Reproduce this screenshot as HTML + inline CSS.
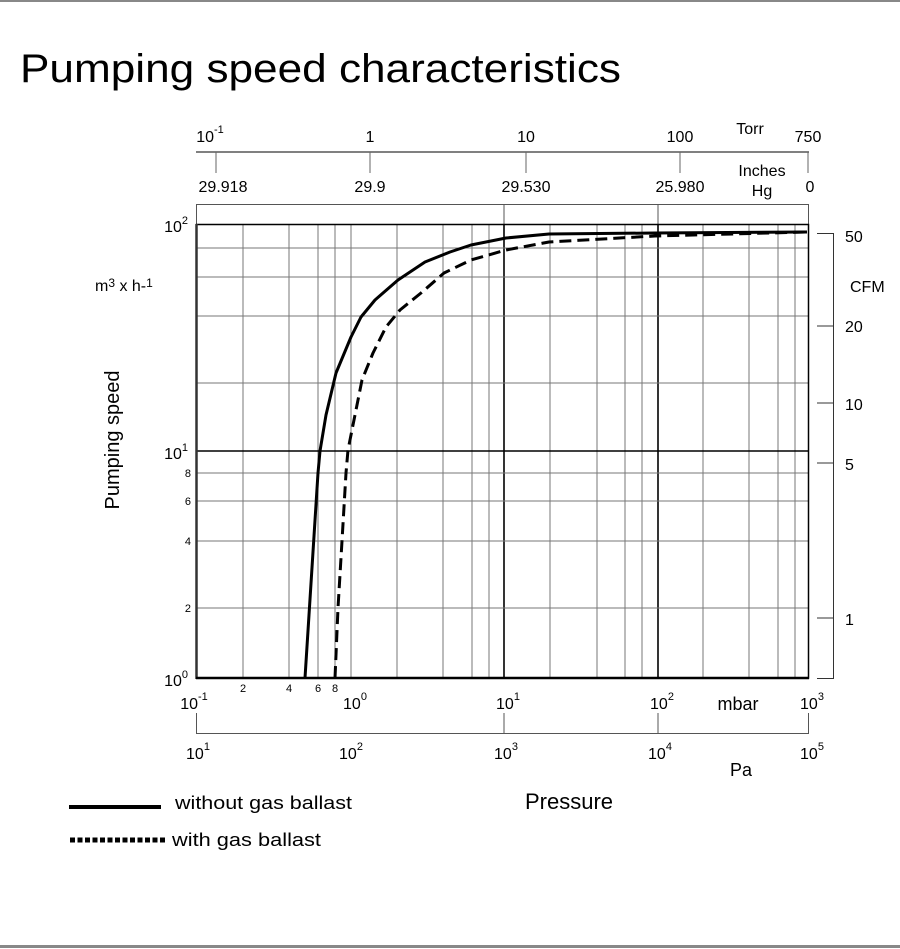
<!DOCTYPE html>
<html><head><meta charset="utf-8"><style>
html,body{margin:0;padding:0;background:#fff;}
svg{display:block;font-family:"Liberation Sans",Arial,sans-serif;}
</style></head><body>
<svg width="900" height="949" viewBox="0 0 900 949" xmlns="http://www.w3.org/2000/svg">
<rect x="0" y="0" width="900" height="2" fill="#888"/>
<rect x="0" y="945" width="900" height="3" fill="#888"/>
<text x="20" y="82" font-size="40" textLength="601" lengthAdjust="spacingAndGlyphs">Pumping speed characteristics</text>

<!-- Torr / Inches Hg axis -->
<g stroke="#000" stroke-width="1">
<line x1="196" y1="152" x2="809" y2="152"/>
</g>
<g stroke="#666" stroke-width="1">
<line x1="216" y1="152" x2="216" y2="173"/>
<line x1="370" y1="152" x2="370" y2="173"/>
<line x1="526" y1="152" x2="526" y2="173"/>
<line x1="680" y1="152" x2="680" y2="173"/>
<line x1="808" y1="152" x2="808" y2="173"/>
</g>
<g font-size="16" text-anchor="middle">
<text x="210" y="142">10<tspan font-size="11" dy="-9">-1</tspan></text>
<text x="370" y="142">1</text>
<text x="526" y="142">10</text>
<text x="680" y="142">100</text>
<text x="750" y="134">Torr</text>
<text x="808" y="142">750</text>
<text x="223" y="192">29.918</text>
<text x="370" y="192">29.9</text>
<text x="526" y="192">29.530</text>
<text x="680" y="192">25.980</text>
<text x="762" y="176">Inches</text>
<text x="762" y="196">Hg</text>
<text x="810" y="192">0</text>
</g>

<!-- top box -->
<g stroke="#555" stroke-width="1" fill="none">
<polyline points="196.5,224 196.5,204.5 808.5,204.5 808.5,224"/>
<line x1="504" y1="204" x2="504" y2="224"/>
<line x1="658" y1="204" x2="658" y2="224"/>
</g>

<!-- grid verticals -->
<g stroke="#777" stroke-width="1">
<line x1="243" y1="224" x2="243" y2="678"/>
<line x1="289" y1="224" x2="289" y2="678"/>
<line x1="318" y1="224" x2="318" y2="678"/>
<line x1="335" y1="224" x2="335" y2="678"/>
<line x1="351" y1="224" x2="351" y2="678"/>
<line x1="397" y1="224" x2="397" y2="678"/>
<line x1="443" y1="224" x2="443" y2="678"/>
<line x1="472" y1="224" x2="472" y2="678"/>
<line x1="489" y1="224" x2="489" y2="678"/>
<line x1="550" y1="224" x2="550" y2="678"/>
<line x1="597" y1="224" x2="597" y2="678"/>
<line x1="625" y1="224" x2="625" y2="678"/>
<line x1="642" y1="224" x2="642" y2="678"/>
<line x1="703" y1="224" x2="703" y2="678"/>
<line x1="749" y1="224" x2="749" y2="678"/>
<line x1="778" y1="224" x2="778" y2="678"/>
<line x1="795" y1="224" x2="795" y2="678"/>
</g>
<g stroke="#000" stroke-width="1.6">
<line x1="504" y1="224" x2="504" y2="678"/>
<line x1="658" y1="224" x2="658" y2="678"/>
</g>
<!-- grid horizontals -->
<g stroke="#777" stroke-width="1">
<line x1="196" y1="248" x2="808" y2="248"/>
<line x1="196" y1="277" x2="808" y2="277"/>
<line x1="196" y1="316" x2="808" y2="316"/>
<line x1="196" y1="383" x2="808" y2="383"/>
<line x1="196" y1="473" x2="808" y2="473"/>
<line x1="196" y1="501" x2="808" y2="501"/>
<line x1="196" y1="541" x2="808" y2="541"/>
<line x1="196" y1="608" x2="808" y2="608"/>
</g>
<g stroke="#000" stroke-width="1.6">
<line x1="196" y1="451" x2="808" y2="451"/>
</g>
<rect x="196.5" y="224.5" width="612" height="453.5" fill="none" stroke="#000" stroke-width="1.5"/>
<line x1="196.5" y1="224" x2="196.5" y2="679" stroke="#333" stroke-width="2.5"/>
<line x1="196" y1="678" x2="809" y2="678" stroke="#000" stroke-width="2.5"/>

<!-- curves -->
<polyline fill="none" stroke="#000" stroke-width="3" stroke-linejoin="round" points="305,678 318,473 320,451 326,415 336,373 351,337 361,317 375,300 398,280 425,262 450,252 471,245 506,238 549,234 655,233 807,232"/>
<polyline fill="none" stroke="#000" stroke-width="3" stroke-dasharray="12,6" stroke-linejoin="round" points="335,678 338,608 342,541 346,473 348,450 354,420 362,380 373,353 386,327 400,310 421,293 444,273 471,260 506,250 549,242 655,236 807,232"/>

<!-- left axis labels -->
<g font-size="16" text-anchor="end">
<text x="188" y="232">10<tspan font-size="11" dy="-8">2</tspan></text>
<text x="188" y="459">10<tspan font-size="11" dy="-8">1</tspan></text>
<text x="188" y="686">10<tspan font-size="11" dy="-8">0</tspan></text>
</g>
<g font-size="11" text-anchor="end">
<text x="191" y="477">8</text>
<text x="191" y="505">6</text>
<text x="191" y="545">4</text>
<text x="191" y="612">2</text>
</g>
<text x="95" y="291" font-size="16">m<tspan font-size="12" dy="-4">3</tspan><tspan dy="4"> x h-</tspan><tspan font-size="12" dy="-4">1</tspan></text>
<text transform="translate(119,440) rotate(-90)" font-size="20" text-anchor="middle">Pumping speed</text>

<!-- right CFM axis -->
<g stroke="#333" stroke-width="1" fill="none">
<polyline points="817,233.5 833.5,233.5 833.5,678.5 817,678.5"/>
<line x1="817" y1="326" x2="833" y2="326"/>
<line x1="817" y1="403" x2="833" y2="403"/>
<line x1="817" y1="463" x2="833" y2="463"/>
<line x1="817" y1="618" x2="833" y2="618"/>
</g>
<g font-size="16">
<text x="845" y="242">50</text>
<text x="850" y="292">CFM</text>
<text x="845" y="332">20</text>
<text x="845" y="410">10</text>
<text x="845" y="470">5</text>
<text x="845" y="625">1</text>
</g>

<!-- bottom mbar labels -->
<g font-size="11" text-anchor="middle">
<text x="243" y="692">2</text>
<text x="289" y="692">4</text>
<text x="318" y="692">6</text>
<text x="335" y="692">8</text>
</g>
<g font-size="16" text-anchor="middle">
<text x="194" y="709">10<tspan font-size="11" dy="-9">-1</tspan></text>
<text x="355" y="709">10<tspan font-size="11" dy="-9">0</tspan></text>
<text x="508" y="709">10<tspan font-size="11" dy="-9">1</tspan></text>
<text x="662" y="709">10<tspan font-size="11" dy="-9">2</tspan></text>
<text x="738" y="710" font-size="18">mbar</text>
<text x="812" y="709">10<tspan font-size="11" dy="-9">3</tspan></text>
</g>
<!-- Pa axis -->
<g stroke="#555" stroke-width="1" fill="none">
<polyline points="196.5,713 196.5,733.5 808.5,733.5 808.5,713"/>
<line x1="504" y1="713" x2="504" y2="733"/>
<line x1="658" y1="713" x2="658" y2="733"/>
</g>
<g font-size="16" text-anchor="middle">
<text x="198" y="759">10<tspan font-size="11" dy="-9">1</tspan></text>
<text x="351" y="759">10<tspan font-size="11" dy="-9">2</tspan></text>
<text x="506" y="759">10<tspan font-size="11" dy="-9">3</tspan></text>
<text x="660" y="759">10<tspan font-size="11" dy="-9">4</tspan></text>
<text x="741" y="776" font-size="18">Pa</text>
<text x="812" y="759">10<tspan font-size="11" dy="-9">5</tspan></text>
</g>

<!-- legend -->
<rect x="69" y="805" width="92" height="4" fill="#000"/>
<text x="175" y="809" font-size="18" textLength="177" lengthAdjust="spacingAndGlyphs">without gas ballast</text>
<line x1="70" y1="840" x2="166" y2="840" stroke="#000" stroke-width="5" stroke-dasharray="5,2.5"/>
<text x="172" y="846" font-size="18" textLength="149" lengthAdjust="spacingAndGlyphs">with gas ballast</text>
<text x="525" y="809" font-size="22">Pressure</text>
</svg>
</body></html>
